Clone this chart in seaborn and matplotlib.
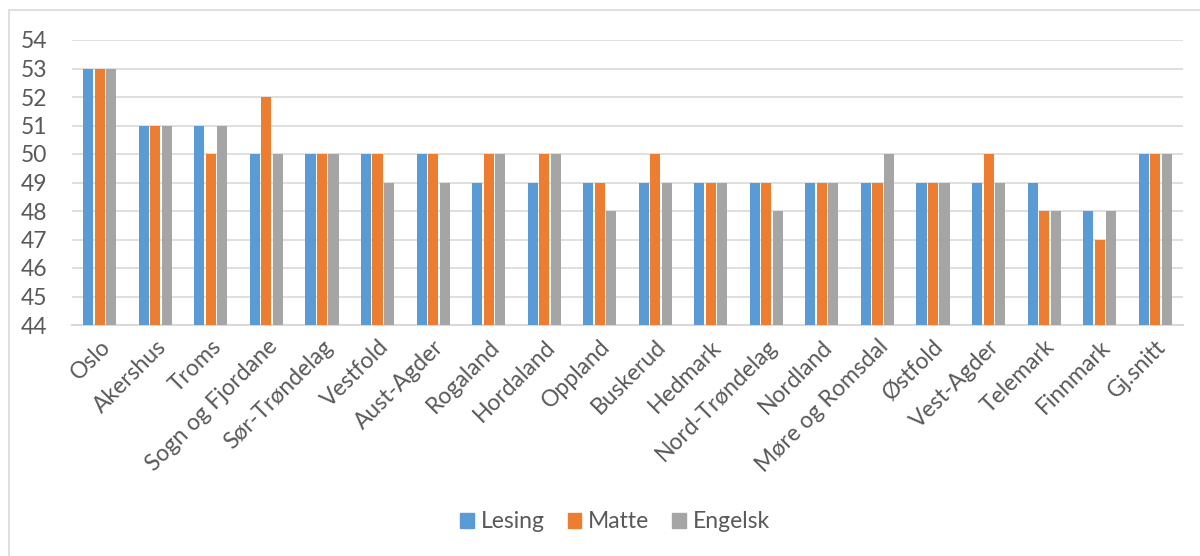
import matplotlib.pyplot as plt
import matplotlib.patches as mpatches
import pandas as pd
import seaborn as sns

# data
regions = ['Oslo', 'Akershus', 'Troms', 'Sogn og Fjordane', 'Sør-Trøndelag',
           'Vestfold', 'Aust-Agder', 'Rogaland', 'Hordaland', 'Oppland',
           'Buskerud', 'Hedmark', 'Nord-Trøndelag', 'Nordland',
           'Møre og Romsdal', 'Østfold', 'Vest-Agder', 'Telemark',
           'Finnmark', 'Gj.snitt']
lesing = [53, 51, 51, 50, 50, 50, 50, 49, 49, 49,
          49, 49, 49, 49, 49, 49, 49, 49, 48, 50]
matte = [53, 51, 50, 52, 50, 50, 50, 50, 50, 49,
         50, 49, 49, 49, 49, 49, 50, 48, 47, 50]
engelsk = [53, 51, 51, 50, 50, 49, 49, 50, 50, 48,
           49, 49, 48, 49, 50, 49, 49, 48, 48, 50]
subjects = ['Lesing', 'Matte', 'Engelsk']
colors = ['#5b9bd5', '#ed7d31', '#a5a5a5']

df = pd.DataFrame({'Fylke': regions, 'Lesing': lesing,
                   'Matte': matte, 'Engelsk': engelsk})
long_df = df.melt(id_vars='Fylke', var_name='Fag', value_name='Poeng')

sns.set_theme(style='white')
plt.rcParams['font.family'] = ['Lato', 'DejaVu Sans']
text_color = '#595959'
grid_color = '#d9d9d9'
fs = 16.5

fig = plt.figure(figsize=(12, 5.56), dpi=100)
ax = fig.add_axes([72 / 1200, 1 - 325 / 556, 1111 / 1200, 285 / 556])

sns.barplot(data=long_df, x='Fylke', y='Poeng', hue='Fag',
            hue_order=subjects, palette=colors, width=0.62, gap=0.12,
            ax=ax, legend=False, saturation=1, linewidth=0, zorder=3)

# y axis and grid
ax.set_ylim(44, 54)
ax.set_yticks(range(44, 55))
ax.yaxis.grid(True, color=grid_color, linewidth=1.2, zorder=0)
ax.set_axisbelow(True)
ax.set_xlim(-0.5, len(regions) - 0.5)

# tick labels
ax.tick_params(axis='y', length=0, labelsize=fs, labelcolor=text_color, pad=18)
ax.tick_params(axis='x', length=0, labelsize=fs, labelcolor=text_color, pad=8)
plt.setp(ax.get_xticklabels(), rotation=45, ha='right',
         rotation_mode='anchor')
ax.set_xlabel('')
ax.set_ylabel('')

# spines
for s in ['top', 'right', 'left']:
    ax.spines[s].set_visible(False)
ax.spines['bottom'].set_color(grid_color)
ax.spines['bottom'].set_linewidth(1.5)

# legend
handles = [mpatches.Patch(color=c, label=l) for c, l in zip(colors, subjects)]
fig.legend(handles=handles, loc='center', bbox_to_anchor=(615 / 1200, 1 - 522 / 556),
           ncol=3, frameon=False, fontsize=fs, handlelength=0.6,
           handleheight=0.6, handletextpad=0.3, columnspacing=1.0,
           labelcolor=text_color)

# outer chart border
fig.patches.append(mpatches.Rectangle((9 / 1200, -0.05), 1.1, 1 - 10 / 556 + 0.05,
                                      transform=fig.transFigure, fill=False,
                                      edgecolor=grid_color, linewidth=1.2))

fig.savefig('out.png', dpi=100, facecolor='white')
